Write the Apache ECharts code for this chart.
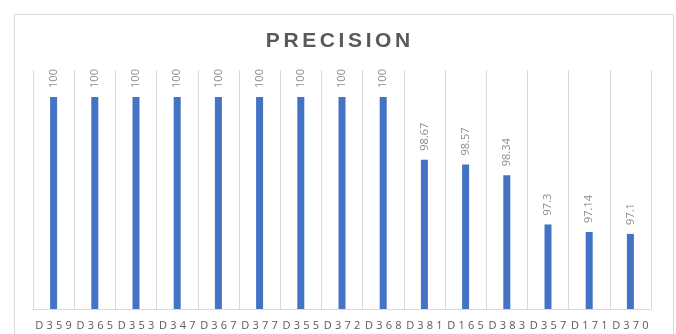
<!DOCTYPE html>
<html>
<head>
<meta charset="utf-8">
<script src="https://cdn.jsdelivr.net/npm/echarts@6/dist/echarts.min.js"></script>
<style>
  html, body { margin: 0; padding: 0; background: #fff; }
  #chart { width: 676px; height: 334px; }
</style>
</head>
<body>
<div id="chart"></div>
<script>
// Precision per detector
const categories = ['D359', 'D365', 'D353', 'D347', 'D367', 'D377', 'D355', 'D372', 'D368',
                    'D381', 'D165', 'D383', 'D357', 'D171', 'D370'];
const precision = [100, 100, 100, 100, 100, 100, 100, 100, 100,
                   98.67, 98.57, 98.34, 97.3, 97.14, 97.1];
const chartTitle = 'PRECISION';

// spread each character into its own rich segment so the padding acts as letter spacing
function spaced(str, style) {
  return str.split('').map(c => '{' + style + '|' + c + '}').join('');
}

const FONT = 'Open Sans, Liberation Sans, sans-serif';
const TITLE_FONT = 'Liberation Sans, Arial, sans-serif';
const chart = echarts.init(document.getElementById('chart'), null, { renderer: 'canvas' });

chart.setOption({
  backgroundColor: '#ffffff',
  animation: false,
  title: {
    text: spaced(chartTitle, 't'),
    left: 'center',
    top: 26,
    textStyle: {
      fontFamily: TITLE_FONT,
      fontSize: 21,
      fontWeight: 'bold',
      color: '#595959',
      rich: {
        t: { fontFamily: TITLE_FONT, fontSize: 21, fontWeight: 'bold', color: '#595959', padding: [0, 1.8] }
      }
    }
  },
  graphic: [{
    type: 'rect',
    left: 12, top: 12,
    shape: { width: 659, height: 340 },
    style: { fill: 'none', stroke: '#d9d9d9', lineWidth: 1 },
    silent: true,
    z: -1
  }],
  grid: { left: 33, right: 25, top: 70, bottom: 25, containLabel: false },
  xAxis: {
    type: 'category',
    data: categories,
    boundaryGap: true,
    axisLine: { show: true, lineStyle: { color: '#d9d9d9', width: 1 } },
    axisTick: { show: false },
    splitLine: { show: true, interval: 0, lineStyle: { color: '#d9d9d9', width: 1 } },
    axisLabel: {
      interval: 0,
      margin: 11,
      formatter: v => spaced(v, 'c'),
      rich: {
        c: { fontFamily: FONT, fontSize: 11, color: '#595959', padding: [0, 1.6] }
      }
    }
  },
  yAxis: {
    type: 'value',
    min: 95.51,
    max: 100.57,
    show: false,
    splitLine: { show: false }
  },
  series: [{
    type: 'bar',
    data: precision,
    barWidth: 7,
    itemStyle: { color: '#4472c4' },
    label: {
      show: true,
      position: 'top',
      rotate: 90,
      align: 'left',
      verticalAlign: 'middle',
      distance: 9,
      fontFamily: FONT,
      fontSize: 11,
      color: '#8c8c8c'
    }
  }]
});
</script>
</body>
</html>
